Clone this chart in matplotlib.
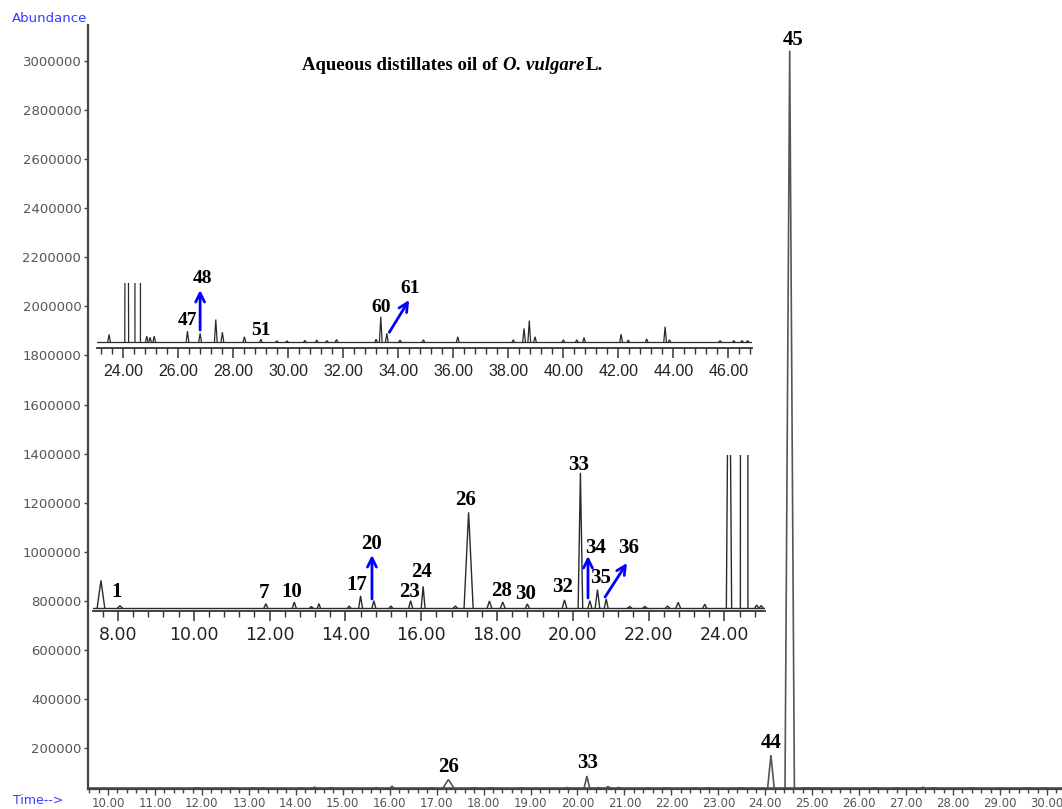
import matplotlib
matplotlib.use("Agg")
import matplotlib.pyplot as plt
from matplotlib.ticker import MultipleLocator, FormatStrFormatter

# peak table (time in min, height above baseline)
baseline_abundance = 36000
peak_time = [7.55, 8.05, 11.9, 12.65, 13.1, 13.3, 14.1, 14.4, 14.75, 15.2,
             15.72, 16.05, 16.9, 17.25, 17.8, 18.15, 18.8, 19.78, 20.2, 20.45,
             20.65, 20.88, 21.5, 21.9, 22.5, 22.78, 23.48, 24.12, 24.52, 24.85,
             24.97, 25.12, 26.33, 26.79, 27.36, 27.6, 28.4, 29.0, 29.58, 29.95,
             30.6, 31.03, 31.4, 31.75, 33.19, 33.36, 33.58, 34.06, 34.91, 36.16,
             38.18, 38.57, 38.76, 38.97, 40.0, 40.49, 40.75, 42.1, 42.36, 43.03,
             43.7, 43.86, 45.7, 46.2, 46.5, 46.7]
peak_height = [10200, 850, 1600, 2200, 550, 1600, 750, 4500, 2700, 750,
               2700, 8000, 750, 35400, 2600, 2200, 1500, 3000, 50000, 2700,
               6800, 3300, 550, 550, 750, 2100, 1400, 135000, 3007000, 1100,
               900, 1100, 2000, 1600, 4100, 1800, 1000, 550, 250, 250,
               350, 400, 300, 500, 550, 4600, 1600, 400, 450, 1000,
               450, 2500, 3900, 1000, 450, 450, 850, 1450, 400, 600,
               2800, 450, 300, 300, 300, 300]
peak_halfwidth = [0.10, 0.06, 0.05, 0.05, 0.04, 0.04, 0.04, 0.05, 0.05, 0.04,
                  0.05, 0.05, 0.05, 0.12, 0.06, 0.06, 0.05, 0.06, 0.06, 0.05,
                  0.06, 0.05, 0.05, 0.05, 0.05, 0.06, 0.05, 0.07, 0.10, 0.05,
                  0.05, 0.05, 0.05, 0.05, 0.05, 0.05, 0.05, 0.05, 0.05, 0.05,
                  0.05, 0.05, 0.05, 0.05, 0.05, 0.05, 0.05, 0.05, 0.05, 0.05,
                  0.05, 0.05, 0.05, 0.05, 0.05, 0.05, 0.05, 0.05, 0.05, 0.05,
                  0.05, 0.05, 0.05, 0.05, 0.05, 0.05]

main_labels = ["26", "33", "44", "45"]
main_label_time = [17.26, 20.22, 24.12, 24.59]
main_label_abundance = [122600, 138900, 220400, 3085800]

lower_labels = ["1", "7", "10", "17", "20", "23", "24", "26", "28", "30",
                "32", "33", "34", "35", "36"]
lower_label_time = [7.95, 11.85, 12.59, 14.31, 14.70, 15.68, 16.02, 17.16,
                    18.13, 18.74, 19.72, 20.16, 20.59, 20.72, 21.48]
lower_label_abundance = [41900, 41550, 41900, 44500, 59700, 41900, 49300,
                         76000, 42300, 41200, 43800, 88900, 58200, 47100, 58200]
# arrows: tail time, tail abundance, head time, head abundance
lower_arrows = [(14.70, 39330, 14.70, 55600),
                (20.40, 39700, 20.40, 55240),
                (20.85, 40070, 21.43, 52650)]

upper_labels = ["47", "48", "51", "60", "61"]
upper_label_time = [26.32, 26.86, 29.0, 33.37, 34.43]
upper_label_abundance = [40000, 47400, 38200, 42350, 45600]
upper_arrows = [(26.79, 38200, 26.79, 45400),
                (33.67, 37800, 34.39, 43600)]

W, H = 1062, 809
fig = plt.figure(figsize=(W / 100, H / 100), dpi=100)


def px_axes(left, top, right, bottom):
    return fig.add_axes([left / W, 1 - bottom / H, (right - left) / W, (bottom - top) / H])


def draw_trace(a, t0, t1, color, lw):
    a.plot([t0, t1], [baseline_abundance, baseline_abundance], color=color, lw=lw)
    for rt, h, w in zip(peak_time, peak_height, peak_halfwidth):
        if t0 - w < rt < t1 + w:
            a.plot([rt - w, rt, rt + w],
                   [baseline_abundance, baseline_abundance + h, baseline_abundance],
                   color=color, lw=lw, solid_joinstyle="miter")


def style_inset(a, label_size, family, pad):
    a.set_facecolor("none")
    for s in ["left", "right", "top"]:
        a.spines[s].set_visible(False)
    a.spines["bottom"].set_color("#333333")
    a.spines["bottom"].set_linewidth(1.3)
    a.set_yticks([])
    a.xaxis.set_major_locator(MultipleLocator(2))
    a.xaxis.set_minor_locator(MultipleLocator(0.4))
    a.xaxis.set_major_formatter(FormatStrFormatter("%.2f"))
    a.tick_params(axis="x", which="major", length=7, width=1.1, color="#333333",
                  labelsize=label_size, labelcolor="#222222", pad=pad)
    a.tick_params(axis="x", which="minor", length=4.5, width=1.0, color="#333333")
    for lab in a.get_xticklabels():
        lab.set_family(family)


# ---- main chromatogram ----
ax = px_axes(87.5, 25, 1062, 789)
ax.set_xlim(9.563, 30.32)
ax.set_ylim(33000, 3147000)
draw_trace(ax, 9.563, 30.32, "#555555", 1.2)
for s in ["right", "top"]:
    ax.spines[s].set_visible(False)
for s in ["left", "bottom"]:
    ax.spines[s].set_color("#444444")
    ax.spines[s].set_linewidth(1.6)
ax.set_yticks(range(200000, 3000001, 200000))
ax.yaxis.set_major_formatter(FormatStrFormatter("%d"))
ax.xaxis.set_major_locator(MultipleLocator(1))
ax.xaxis.set_minor_locator(MultipleLocator(0.2))
ax.xaxis.set_major_formatter(FormatStrFormatter("%.2f"))
ax.tick_params(axis="y", length=3, width=1, color="#444444", labelsize=9.5,
               labelcolor="#555555", pad=1.5)
ax.tick_params(axis="x", which="major", length=4, width=1, color="#444444",
               labelsize=8.5, labelcolor="#555555", pad=1.5)
ax.tick_params(axis="x", which="minor", length=3, width=1, color="#444444")
for t, y, s in zip(main_label_time, main_label_abundance, main_labels):
    ax.text(t, y, s, ha="center", va="center", family="Liberation Serif",
            weight="bold", fontsize=15)

fig.text(12 / W, 1 - 19 / H, "Abundance", color="#3a3aff", fontsize=9.5,
         ha="left", va="center")
fig.text(13 / W, 1 - 801 / H, "Time-->", color="#3a3aff", fontsize=9,
         ha="left", va="center")

# ---- lower inset (7.3 - 25 min) ----
ax_lo = px_axes(93, 455, 765, 611)
ax_lo.set_xlim(7.34, 25.07)
ax_lo.set_ylim(34890, 92610)
draw_trace(ax_lo, 7.34, 25.07, "#2a2a2a", 1.0)
style_inset(ax_lo, 12.5, "DejaVu Sans", 4)
for t, y, s in zip(lower_label_time, lower_label_abundance, lower_labels):
    ax_lo.text(t, y, s, ha="center", va="center", family="Liberation Serif",
               weight="bold", fontsize=15)
for t0, y0, t1, y1 in lower_arrows:
    ax_lo.annotate("", xy=(t1, y1), xytext=(t0, y0), annotation_clip=False,
                   arrowprops=dict(arrowstyle="->", color="#0000ff", lw=2,
                                   mutation_scale=16, shrinkA=0, shrinkB=0))

# ---- upper inset (23 - 47 min) ----
ax_up = px_axes(97, 283, 752, 347.7)
ax_up.set_xlim(23.04, 46.86)
ax_up.set_ylim(35030, 46670)
draw_trace(ax_up, 23.04, 46.86, "#2a2a2a", 0.9)
style_inset(ax_up, 11.5, "Liberation Sans", 5)
for t, y, s in zip(upper_label_time, upper_label_abundance, upper_labels):
    ax_up.text(t, y, s, ha="center", va="center", family="Liberation Serif",
               weight="bold", fontsize=14)
for t0, y0, t1, y1 in upper_arrows:
    ax_up.annotate("", xy=(t1, y1), xytext=(t0, y0), annotation_clip=False,
                   arrowprops=dict(arrowstyle="->", color="#0000ff", lw=2,
                                   mutation_scale=16, shrinkA=0, shrinkB=0))

# ---- title in three pieces (roman / italic / roman) ----
t1 = fig.text(302 / W, 1 - 66 / H, "Aqueous distillates oil of", family="Liberation Serif",
              weight="bold", fontsize=13.5, ha="left", va="center")
t2 = ax.annotate("O. vulgare", xy=(1, 0), xycoords=t1, xytext=(4, 0),
                 textcoords="offset points", family="Liberation Serif", weight="bold",
                 style="italic", fontsize=13.5, ha="left", va="bottom")
ax.annotate("L.", xy=(1, 0), xycoords=t2, xytext=(1, 0), textcoords="offset points",
            family="Liberation Serif", weight="bold", fontsize=13.5, ha="left", va="bottom")

fig.savefig("out.png", dpi=100)
